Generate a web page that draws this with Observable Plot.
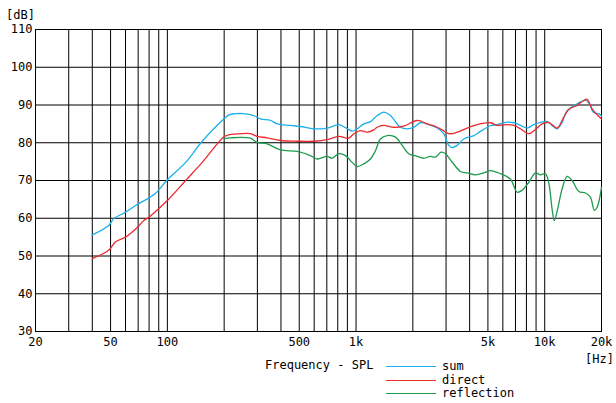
<!DOCTYPE html>
<html>
<head>
<meta charset="utf-8">
<script src="https://cdn.jsdelivr.net/npm/d3@7"></script>
<script src="https://cdn.jsdelivr.net/npm/@observablehq/plot@0.6"></script>
<style>
  html, body { margin: 0; padding: 0; background: #fff; }
  #wrap { position: relative; width: 616px; height: 403px; font-family: "DejaVu Sans Mono", monospace; font-size: 12px; color: #000; }
  #wrap svg { position: absolute; left: 0; top: 0; }
  .t { position: absolute; white-space: pre; line-height: 14px; }
  .sw { position: absolute; height: 0; width: 50px; border-top: 1.5px solid; }
</style>
</head>
<body>
<div id="wrap"></div>
<script>
// ---- data ----
const xTicks = [20, 50, 100, 500, 1000, 5000, 10000, 20000];
const xTickLabels = ["20", "50", "100", "500", "1k", "5k", "10k", "20k"];
const xGrid = [30, 40, 50, 60, 70, 80, 90, 100, 200, 300, 400, 500, 600, 700, 800, 900,
  1000, 2000, 3000, 4000, 5000, 6000, 7000, 8000, 9000, 10000];
const yTicks = [30, 40, 50, 60, 70, 80, 90, 100, 110];
const seriesNames = ["sum", "direct", "reflection"];
const seriesColors = ["#1ab0ea", "#ec2a2f", "#1c9c4c"];

const sumFreq = [40, 48.9, 52, 60, 70, 80, 86.5, 100, 125, 153, 199, 212, 230, 254, 287, 311, 352, 382, 449, 507, 597, 703, 809, 879, 953, 1014, 1099, 1192, 1294, 1403, 1521, 1719, 1866, 2023, 2193, 2431, 2692, 2917, 3100, 3230, 3435, 3724, 4207, 4561, 5155, 5597, 6193, 6855, 7436, 8071, 8749, 9487, 10300, 10940, 11640, 12370, 13150, 14850, 16440, 17110, 18190, 19330, 20000];
const sumDb = [55.6, 58.1, 59.9, 61.6, 63.8, 65.4, 66.6, 70.2, 74.8, 80.4, 86.3, 87.4, 87.7, 87.7, 87.2, 86.3, 85.9, 85.0, 84.6, 84.3, 83.7, 83.9, 84.8, 84.0, 83.1, 83.7, 85.0, 85.6, 87.2, 88.1, 87.2, 84.1, 83.7, 84.1, 85.3, 84.8, 83.9, 82.4, 79.3, 78.7, 79.3, 81.0, 81.9, 83.0, 84.5, 84.8, 85.4, 85.3, 84.6, 83.9, 84.8, 85.4, 85.6, 84.6, 83.7, 85.4, 88.5, 90.3, 91.2, 90.6, 88.0, 87.7, 87.0];

const directFreq = [40, 49, 53, 60, 69, 75, 80, 88, 100, 125, 153, 199, 212, 230, 275, 299, 338, 397, 488, 597, 703, 809, 915, 973, 1055, 1146, 1242, 1294, 1403, 1585, 1791, 2109, 2383, 2692, 2859, 3100, 3435, 3881, 4384, 5155, 5597, 6193, 6855, 7436, 8228, 8933, 9685, 10500, 11640, 12620, 13410, 14850, 16100, 16780, 17830, 18960, 20000];
const directDb = [49.3, 51.6, 53.7, 55.0, 57.5, 59.4, 60.3, 62.1, 64.7, 70.0, 74.8, 81.5, 82.1, 82.3, 82.4, 81.7, 81.3, 80.6, 80.4, 80.4, 80.8, 81.7, 81.2, 82.4, 83.2, 82.8, 83.4, 84.1, 84.6, 84.1, 84.4, 85.9, 85.0, 84.1, 83.4, 82.4, 82.8, 83.9, 84.8, 85.3, 84.6, 84.8, 84.6, 83.7, 82.4, 83.5, 85.0, 85.4, 83.9, 86.8, 88.8, 89.9, 91.2, 91.5, 89.0, 87.4, 86.3];

const reflFreq = [200, 216, 275, 299, 338, 397, 488, 573, 622, 703, 747, 809, 879, 953, 1014, 1099, 1192, 1268, 1346, 1462, 1619, 1755, 1902, 2109, 2286, 2479, 2637, 2825, 2978, 3230, 3573, 3881, 4295, 4753, 5155, 5824, 6576, 7145, 7592, 8228, 8933, 9487, 10090, 10500, 10940, 11250, 11720, 12370, 13150, 13970, 15150, 16440, 17460, 18340, 18960, 20000];
const reflDb = [81.1, 81.3, 81.2, 80.1, 79.7, 78.1, 77.7, 76.6, 75.7, 76.4, 75.9, 77.1, 76.6, 74.8, 73.7, 74.4, 75.7, 77.9, 81.0, 81.9, 81.5, 79.3, 77.1, 76.4, 75.9, 76.4, 76.2, 77.5, 77.1, 74.9, 72.4, 72.0, 71.5, 72.0, 72.6, 71.8, 70.4, 66.9, 67.4, 69.5, 72.0, 71.5, 71.8, 69.5, 62.5, 59.4, 62.5, 67.8, 71.1, 70.0, 67.1, 66.7, 65.6, 62.1, 62.9, 68.2];

// ---- build table ----
const rows = [];
[[sumFreq, sumDb], [directFreq, directDb], [reflFreq, reflDb]].forEach(([fs, ds], i) => {
  fs.forEach((f, j) => rows.push({series: seriesNames[i], f, db: ds[j]}));
});

const chart = Plot.plot({
  width: 616,
  height: 403,
  marginLeft: 35,
  marginRight: 15,
  marginTop: 29,
  marginBottom: 72,
  style: {fontFamily: "DejaVu Sans Mono, monospace", fontSize: "12px", background: "transparent", color: "#000"},
  x: {type: "log", domain: [20, 20000], axis: null},
  y: {domain: [30, 110], ticks: yTicks, tickSize: 0, tickPadding: 3, label: null},
  color: {domain: seriesNames, range: seriesColors},
  marks: [
    Plot.ruleX(xGrid, {stroke: "#000", strokeWidth: 1}),
    Plot.ruleY(yTicks, {stroke: "#000", strokeWidth: 1}),
    Plot.frame({stroke: "#000", strokeWidth: 1}),
    Plot.text(xTicks, {x: d => d, text: (d, i) => xTickLabels[i], frameAnchor: "bottom", dy: 14, fill: "#000"}),
    Plot.line(rows, {x: "f", y: "db", z: "series", stroke: "series", strokeWidth: 1.3, curve: "catmull-rom"})
  ]
});
const wrap = document.getElementById("wrap");
wrap.appendChild(chart);

function addText(txt, css) {
  const d = document.createElement("div");
  d.className = "t";
  d.textContent = txt;
  Object.assign(d.style, css);
  wrap.appendChild(d);
}
addText("[dB]", {left: "6px", top: "8px"});
addText("[Hz]", {right: "2px", top: "352px"});
addText("Frequency - SPL", {left: "265px", top: "358px"});
const legendTops = [366, 380, 393];
seriesNames.forEach((name, i) => {
  const s = document.createElement("div");
  s.className = "sw";
  s.style.left = "386px";
  s.style.top = legendTops[i] + "px";
  s.style.borderTopColor = seriesColors[i];
  wrap.appendChild(s);
  addText(name, {left: "442px", top: (legendTops[i] - 7) + "px"});
});
</script>
</body>
</html>
